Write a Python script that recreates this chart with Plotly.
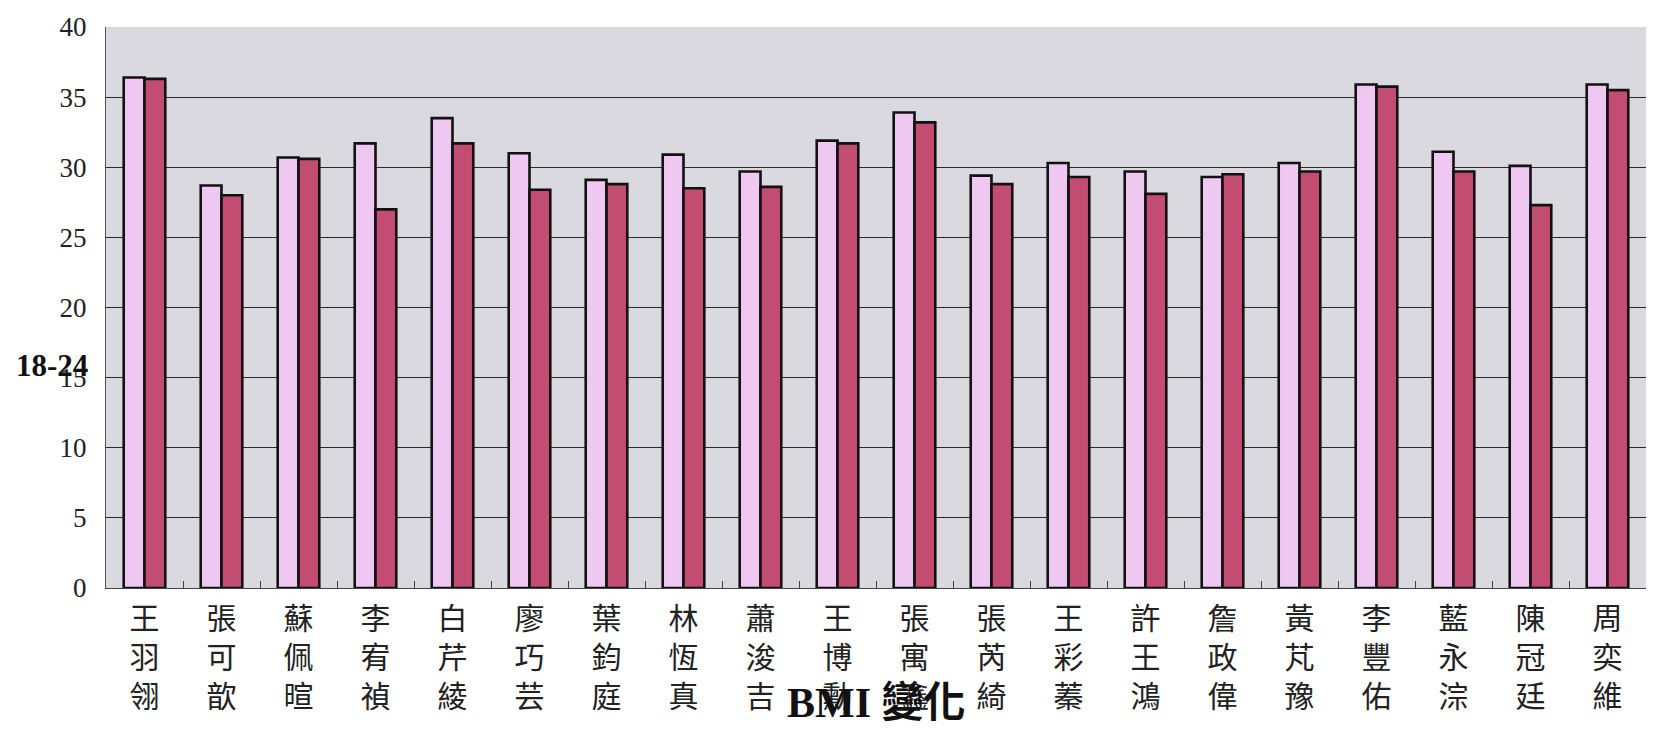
import plotly.graph_objects as go

# Student names (stacked vertically, one character per line)
names = ["王羽翎", "張可歆", "蘇佩暄", "李宥禎", "白芹綾", "廖巧芸", "葉鈞庭",
         "林恆真", "蕭浚吉", "王博勳", "張寓鑫", "張芮綺", "王彩蓁", "許王鴻",
         "詹政偉", "黃芃豫", "李豐佑", "藍永淙", "陳冠廷", "周奕維"]

# BMI, first measurement (light bars) and second measurement (dark bars)
bmi_before = [36.4, 28.7, 30.7, 31.7, 33.5, 31.0, 29.1, 30.9, 29.7, 31.9,
              33.9, 29.4, 30.3, 29.7, 29.3, 30.3, 35.9, 31.1, 30.1, 35.9]
bmi_after = [36.3, 28.0, 30.6, 27.0, 31.7, 28.4, 28.8, 28.5, 28.6, 31.7,
             33.2, 28.8, 29.3, 28.1, 29.5, 29.7, 35.75, 29.7, 27.3, 35.5]

y_ticks = [0, 5, 10, 15, 20, 25, 30, 35, 40]

stacked = ["<br>".join(list(n)) for n in names]

fig = go.Figure()
fig.add_trace(go.Bar(
    x=stacked, y=bmi_before, name="前",
    marker=dict(color="#eec8f0", line=dict(color="#111111", width=2.6)),
))
fig.add_trace(go.Bar(
    x=stacked, y=bmi_after, name="後",
    marker=dict(color="#c24c72", line=dict(color="#111111", width=2.6)),
))

fig.update_layout(
    width=1663, height=739,
    margin=dict(l=106, r=17, t=24, b=151),
    paper_bgcolor="white",
    plot_bgcolor="#d9d9df",
    barmode="group",
    bargap=0.46,
    bargroupgap=0.0,
    showlegend=False,
    font=dict(family="Liberation Serif, Noto Sans CJK TC, serif", color="#111111"),
)

fig.update_xaxes(
    type="category",
    tickfont=dict(family="Noto Sans CJK TC", size=30, color="#222222"),
    showline=True, linecolor="#444444", linewidth=1.2,
    ticks="inside", tickson="boundaries", ticklen=7, tickcolor="#444444",
    showgrid=False,
    ticklabelstandoff=4,
)

fig.update_yaxes(
    range=[0, 40],
    tickvals=y_ticks,
    tickfont=dict(family="Liberation Serif", size=27, color="#222222"),
    showline=True, linecolor="#555555", linewidth=1,
    showgrid=True, gridcolor="#2a2a2a", gridwidth=1,
    zeroline=False,
    ticks="",
    ticklabelstandoff=13,
)

fig.add_annotation(
    text="<b>18-24</b>", xref="paper", yref="paper",
    x=-0.035, y=0.397, xanchor="center", yanchor="middle",
    showarrow=False,
    font=dict(family="Liberation Serif", size=31, color="#111111"),
)

fig.add_annotation(
    text="<b>BMI 變化</b>", xref="paper", yref="paper",
    x=0.5, y=-0.205, xanchor="center", yanchor="middle",
    showarrow=False,
    font=dict(family="Liberation Serif, Noto Sans CJK TC", size=42, color="#111111"),
)

fig.write_html("out.html")
